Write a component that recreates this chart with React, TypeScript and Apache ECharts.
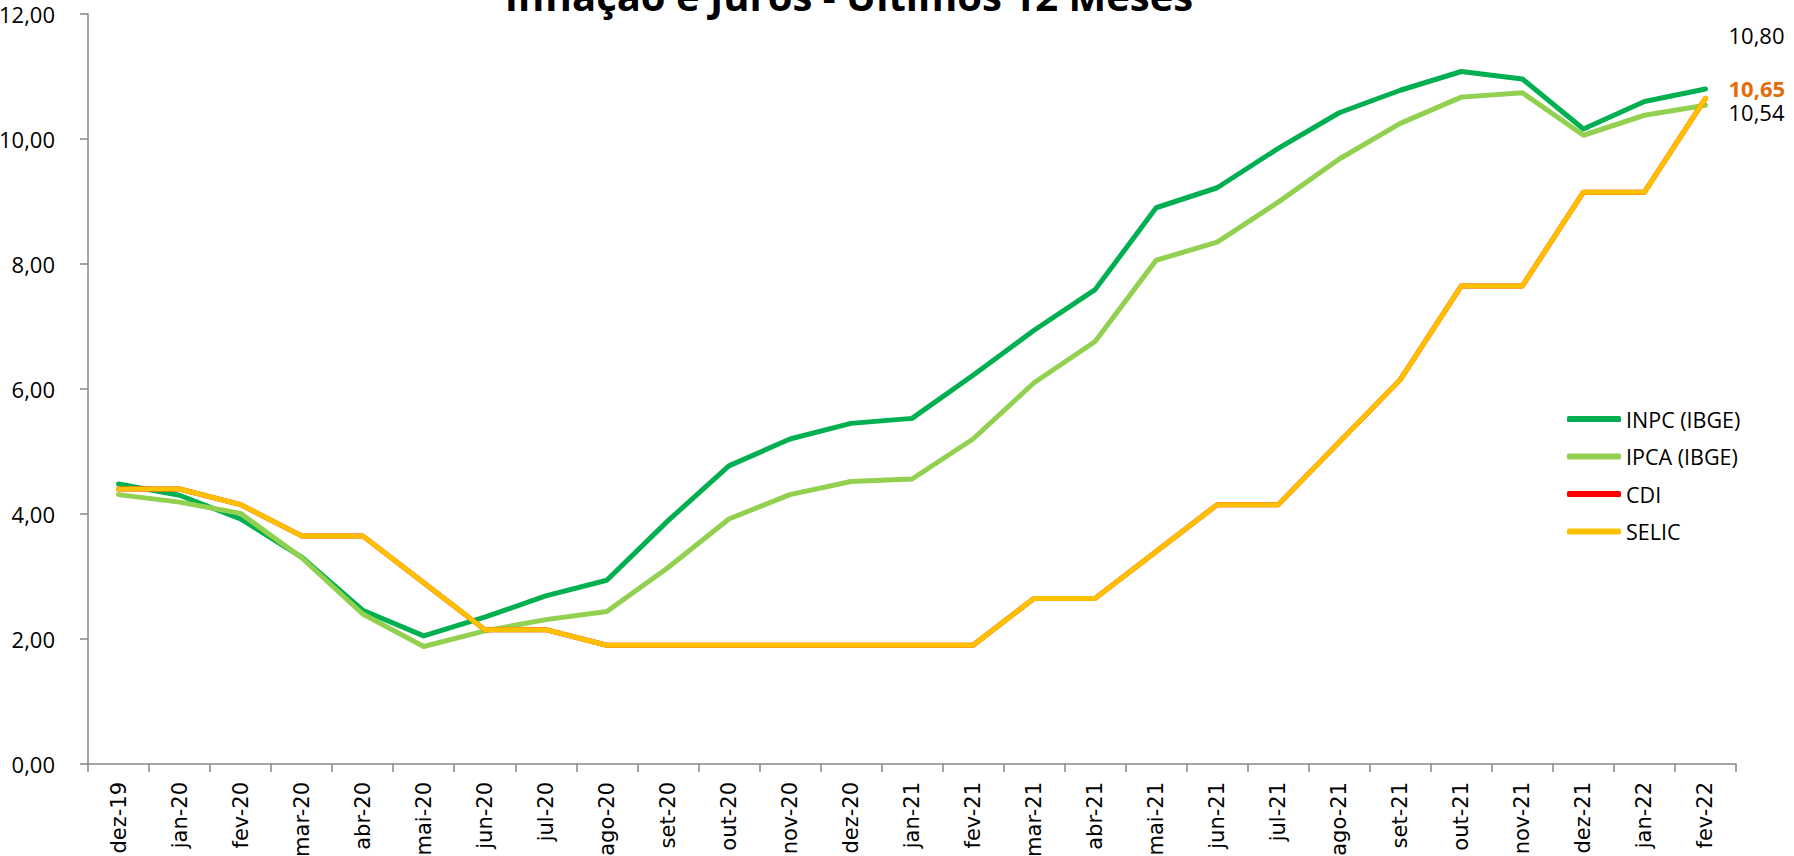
import React, { useEffect, useRef } from 'react';
import * as echarts from 'echarts';

const categories = [
  'dez-19', 'jan-20', 'fev-20', 'mar-20', 'abr-20', 'mai-20', 'jun-20', 'jul-20', 'ago-20',
  'set-20', 'out-20', 'nov-20', 'dez-20', 'jan-21', 'fev-21', 'mar-21', 'abr-21', 'mai-21',
  'jun-21', 'jul-21', 'ago-21', 'set-21', 'out-21', 'nov-21', 'dez-21', 'jan-22', 'fev-22',
];

const inpc = [
  4.48, 4.30, 3.92, 3.31, 2.46, 2.05, 2.35, 2.69, 2.94, 3.89, 4.77, 5.20, 5.45, 5.53,
  6.22, 6.94, 7.59, 8.90, 9.22, 9.85, 10.42, 10.78, 11.08, 10.96, 10.16, 10.60, 10.80,
];

const ipca = [
  4.31, 4.19, 4.01, 3.30, 2.40, 1.88, 2.13, 2.31, 2.44, 3.14, 3.92, 4.31, 4.52, 4.56,
  5.20, 6.10, 6.76, 8.06, 8.35, 8.99, 9.68, 10.25, 10.67, 10.74, 10.06, 10.38, 10.54,
];

const cdi = [
  4.40, 4.40, 4.15, 3.65, 3.65, 2.90, 2.15, 2.15, 1.90, 1.90, 1.90, 1.90, 1.90, 1.90,
  1.90, 2.65, 2.65, 3.40, 4.15, 4.15, 5.15, 6.15, 7.65, 7.65, 9.15, 9.15, 10.65,
];

const selic = [
  4.40, 4.40, 4.15, 3.65, 3.65, 2.90, 2.15, 2.15, 1.90, 1.90, 1.90, 1.90, 1.90, 1.90,
  1.90, 2.65, 2.65, 3.40, 4.15, 4.15, 5.15, 6.15, 7.65, 7.65, 9.15, 9.15, 10.65,
];

const yTicks = { min: 0, max: 12, interval: 2 };

const fmt = (v: number) => v.toFixed(2).replace('.', ',');

const FONT = '"Open Sans", "Noto Sans", sans-serif';

export default function App() {
  const ref = useRef<HTMLDivElement>(null);

  useEffect(() => {
    const chart = echarts.init(ref.current!, null, { renderer: 'svg' });
    const baseLabel = {
      show: true,
      distance: 5,
      fontFamily: FONT,
      fontSize: 22,
      lineHeight: 22,
      color: '#000',
      align: 'left',
      verticalAlign: 'middle',
      formatter: (p: any) => fmt(Array.isArray(p.value) ? p.value[1] : p.value),
    };
    chart.setOption({
      animation: false,
      backgroundColor: '#fff',
      graphic: [
        {
          type: 'text',
          x: 849,
          y: -5,
          style: {
            text: 'Inflação e Juros - Últimos 12 Meses',
            fontFamily: FONT,
            fontWeight: 'bold',
            fontSize: 40,
            fill: '#000',
            align: 'center',
            verticalAlign: 'middle',
          },
        },
      ],
      grid: {
        left: 88,
        right: 58,
        top: 14,
        bottom: 92,
        containLabel: false,
        outerBoundsMode: 'none',
      },
      legend: {
        orient: 'vertical',
        left: 1562,
        top: 403,
        itemWidth: 54,
        itemHeight: 6,
        itemGap: 15.5,
        icon: 'roundRect',
        textStyle: { fontFamily: FONT, fontSize: 21.5, color: '#000' },
        data: ['INPC (IBGE)', 'IPCA (IBGE)', 'CDI', 'SELIC'],
      },
      xAxis: {
        type: 'category',
        data: categories,
        boundaryGap: true,
        axisLine: { lineStyle: { color: '#868686', width: 1.5 } },
        axisTick: { show: true, length: 8, interval: 0, lineStyle: { color: '#868686', width: 1.5 } },
        axisLabel: {
          interval: 0,
          rotate: 90,
          margin: 18,
          fontFamily: '"DejaVu Sans", Verdana, sans-serif',
          fontSize: 21,
          color: '#000',
        },
        splitLine: { show: false },
      },
      yAxis: {
        type: 'value',
        min: yTicks.min,
        max: yTicks.max,
        interval: yTicks.interval,
        axisLine: { show: true, lineStyle: { color: '#868686', width: 1.5 } },
        axisTick: { show: true, length: 8, lineStyle: { color: '#868686', width: 1.5 } },
        axisLabel: {
          margin: 33,
          fontFamily: FONT,
          fontSize: 22,
          color: '#000',
          formatter: (v: number) => fmt(v),
        },
        splitLine: { show: false },
      },
      series: [
        {
          name: 'INPC (IBGE)',
          type: 'line',
          symbol: 'none',
          color: '#00B050',
          lineStyle: { width: 5, color: '#00B050', cap: 'round', join: 'round' },
          endLabel: { ...baseLabel, offset: [18, -54] },
          data: inpc,
        },
        {
          name: 'IPCA (IBGE)',
          type: 'line',
          symbol: 'none',
          color: '#92D050',
          lineStyle: { width: 5, color: '#92D050', cap: 'round', join: 'round' },
          endLabel: { ...baseLabel, offset: [18, 6.5] },
          data: ipca,
        },
        {
          name: 'CDI',
          type: 'line',
          symbol: 'none',
          color: '#FF0000',
          lineStyle: { width: 5, color: '#FF0000', cap: 'round', join: 'round' },
          data: cdi,
        },
        {
          name: 'SELIC',
          type: 'line',
          symbol: 'none',
          color: '#FFC000',
          lineStyle: { width: 5, color: '#FFC000', cap: 'round', join: 'round' },
          endLabel: {
            ...baseLabel,
            offset: [18, -10.5],
            color: '#E36C09',
            fontWeight: 'bold',
          },
          data: selic,
        },
      ],
    });
    return () => chart.dispose();
  }, []);

  return (
    <div
      ref={ref}
      style={{ position: 'fixed', left: 0, top: 0, width: 1794, height: 856, background: '#fff' }}
    />
  );
}
